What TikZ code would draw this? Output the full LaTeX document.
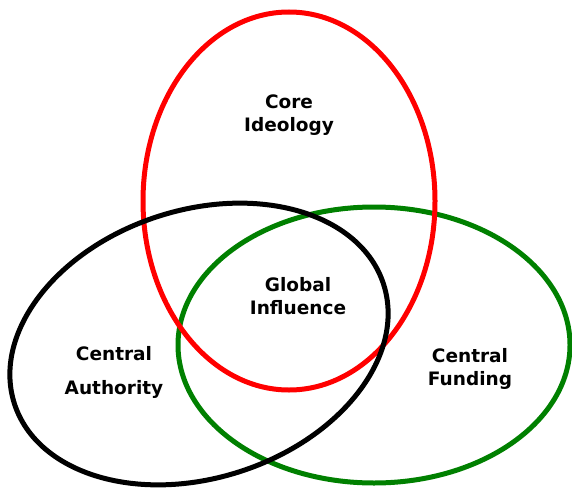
\documentclass[tikz,border=0pt]{standalone}
\usepackage{fontspec}
\setmainfont{DejaVu Sans}
\usepackage{tikz}

\begin{document}
\begin{tikzpicture}[x=1pt, y=-1pt]
    \tikzset{ring/.style = {line width=5pt}}
    \tikzset{vtext/.style = {align=center, font=\bfseries\fontsize{18.5}{23}\selectfont}}
    \definecolor{ringred}{RGB}{255,0,0}
    \definecolor{ringgreen}{RGB}{0,128,0}

    \useasboundingbox (0,0) rectangle (572,492);

    \draw[ring, ringgreen] (374,345) ellipse [x radius=196, y radius=138];
    \draw[ring, ringred] (289,201) ellipse [x radius=146, y radius=189];
    \draw[ring, black, rotate around={18:(199,344)}] (199,344) ellipse [x radius=194, y radius=134];

    \node[vtext] (ideology) at (289,115) {Core\\Ideology};
    \node[vtext] (influence) at (298,296) {Global\\Influence};
    \node[vtext] (authority) at (114,372) {Central\\[11pt]Authority};
    \node[vtext] (funding) at (470,369) {Central\\Funding};
\end{tikzpicture}
\end{document}
